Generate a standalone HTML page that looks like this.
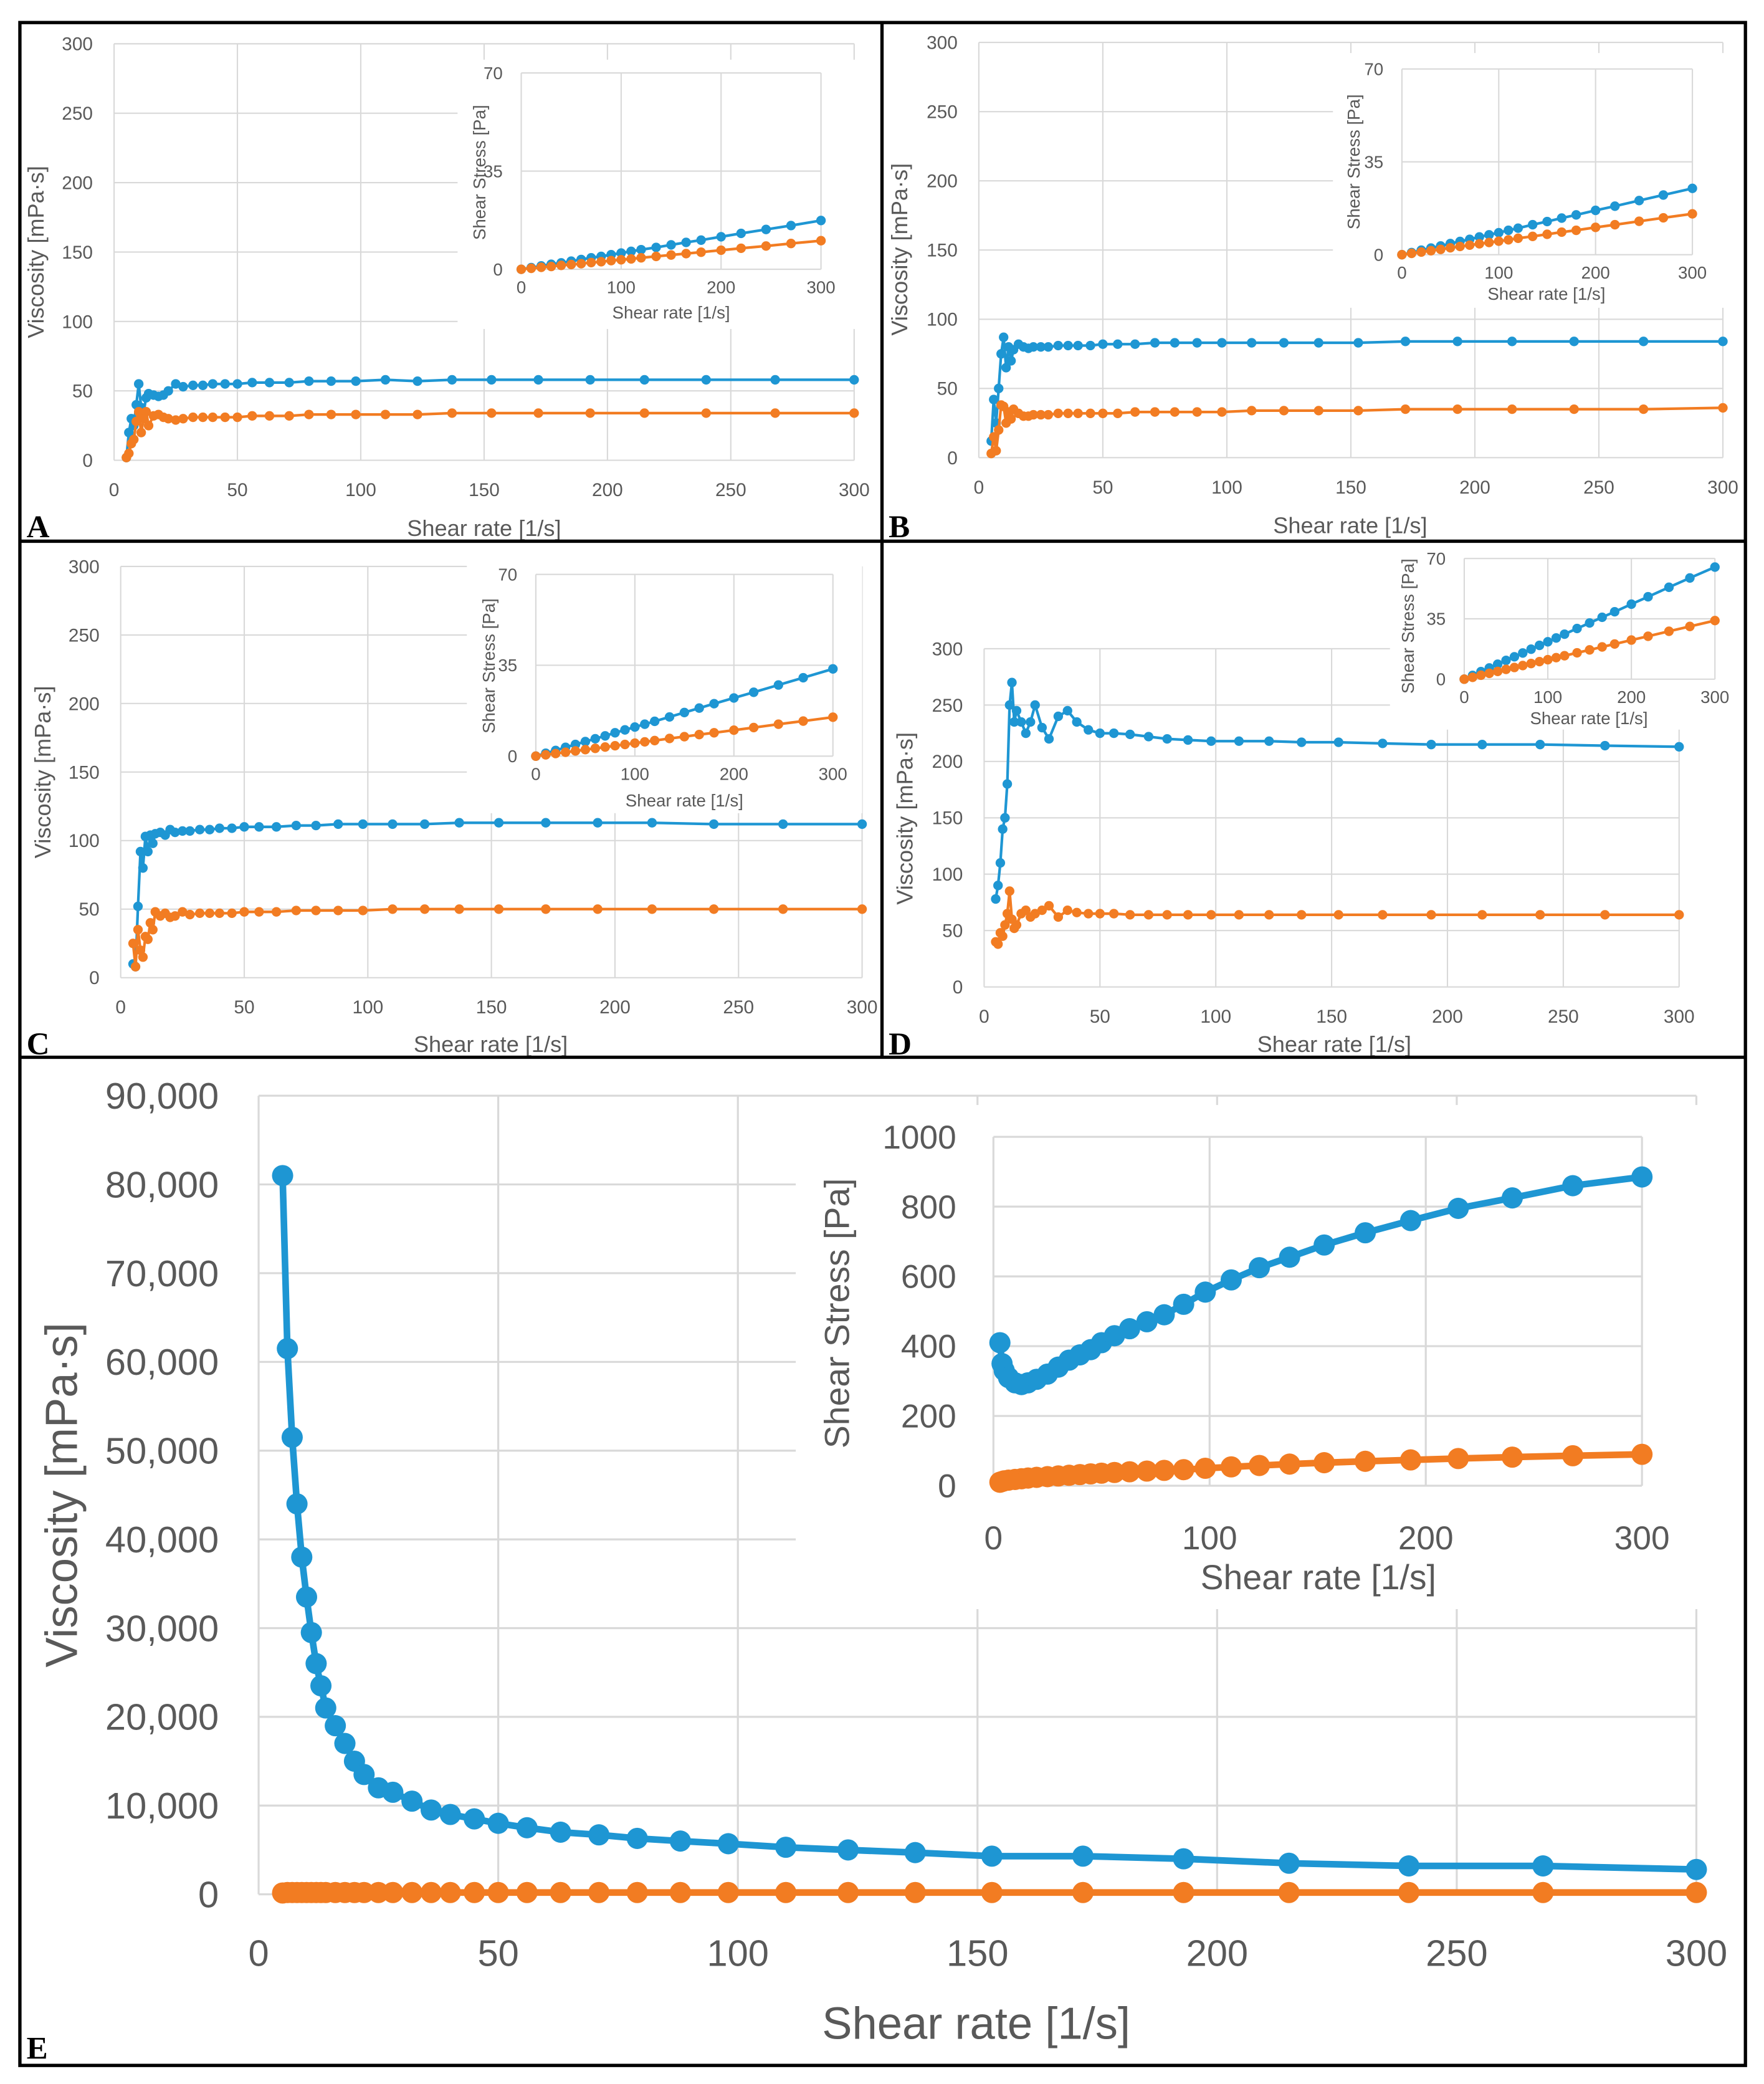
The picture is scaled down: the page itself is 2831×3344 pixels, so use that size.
<!DOCTYPE html>
<html><head><meta charset="utf-8">
<style>
html,body{margin:0;padding:0;background:#fff;}
svg{display:block;}
text{font-family:"Liberation Sans","DejaVu Sans",sans-serif;fill:#595959;}
</style></head>
<body>
<svg id="fig" width="2831" height="3344" viewBox="0 0 1330 1571" xmlns="http://www.w3.org/2000/svg">
<rect x="0" y="0" width="1330" height="1571" fill="#fff"/>
</svg>
<script>
// ---- shared shear-rate categories ----
const xs = [5,6,7,8,9,10,11,12,13,14,16,18,20,22,25,28,32,36,40,45,50,56,63,71,79,88,98,110,123,137,153,172,193,215,240,268,300];
const xi = [0,10,20,30,40,50,60,70,80,90,100,110,120,135,150,165,180,200,220,245,270,300];
// ---- panel A ----
const aBlue = [2,20,30,25,40,55,38,35,45,48,47,46,47,50,55,53,54,54,55,55,55,56,56,56,57,57,57,58,57,58,58,58,58,58,58,58,58];
const aOrange = [2,5,12,15,28,35,20,30,35,25,32,33,31,30,29,30,31,31,31,31,31,32,32,32,33,33,33,33,33,34,34,34,34,34,34,34,34];
const aBlueS = [0,0.6,1.2,1.8,2.3,2.9,3.5,4.1,4.6,5.2,5.8,6.4,7,7.8,8.7,9.6,10.4,11.6,12.8,14.2,15.6,17.4];
const aOrangeS = [0,0.35,0.7,1,1.4,1.7,2,2.4,2.7,3.1,3.4,3.7,4.1,4.6,5.1,5.6,6.1,6.8,7.5,8.3,9.2,10.2];
// ---- panel B ----
const bBlue = [12,42,25,50,75,87,65,80,70,78,82,80,79,80,80,80,81,81,81,81,82,82,82,83,83,83,83,83,83,83,83,84,84,84,84,84,84];
const bOrange = [3,15,5,20,38,37,25,33,28,35,32,30,30,31,31,31,32,32,32,32,32,32,33,33,33,33,33,34,34,34,34,35,35,35,35,35,36];
const bBlueS = [0,0.8,1.7,2.5,3.3,4.2,5,5.8,6.7,7.5,8.3,9.2,10,11.3,12.5,13.8,15,16.7,18.3,20.4,22.5,25];
const bOrangeS = [0,0.5,1,1.5,2,2.6,3.1,3.6,4.1,4.6,5.1,5.6,6.2,6.9,7.7,8.5,9.2,10.3,11.3,12.6,13.9,15.4];
// ---- panel C ----
const cBlue = [10,8,52,92,80,103,92,104,98,105,106,104,108,106,107,107,108,108,109,109,110,110,110,111,111,112,112,112,112,113,113,113,113,113,112,112,112];
const cOrange = [25,8,35,20,15,30,28,40,35,48,45,47,44,45,48,46,47,47,47,47,48,48,48,49,49,49,49,50,50,50,50,50,50,50,50,50,50];
const cBlueS = [0,1.1,2.2,3.4,4.5,5.6,6.7,7.8,9,10.1,11.2,12.3,13.4,15.1,16.8,18.5,20.2,22.4,24.6,27.4,30.2,33.6];
const cOrangeS = [0,0.5,1,1.5,2,2.5,3,3.5,4,4.5,5,5.5,6,6.8,7.5,8.3,9,10,11,12.3,13.5,15];
// ---- panel D ----
const dBlue = [78,90,110,140,150,180,250,270,235,245,235,225,235,250,230,220,240,245,235,228,225,225,224,222,220,219,218,218,218,217,217,216,215,215,215,214,213];
const dOrange = [40,38,48,45,55,65,85,60,52,55,65,68,62,65,68,72,62,68,66,65,65,65,64,64,64,64,64,64,64,64,64,64,64,64,64,64,64];
const dBlueS = [0,2.2,4.4,6.5,8.7,10.9,13,15.2,17.4,19.6,21.7,23.9,26.1,29.4,32.6,35.9,39.1,43.5,47.8,53.3,58.7,65];
const dOrangeS = [0,1.1,2.3,3.4,4.5,5.7,6.8,7.9,9.1,10.2,11.3,12.5,13.6,15.3,17,18.7,20.4,22.7,24.9,27.8,30.6,34];
// ---- panel E ----
const eBlue = [81000,61500,51500,44000,38000,33500,29500,26000,23500,21000,19000,17000,15000,13500,12000,11500,10500,9500,9000,8500,8000,7500,7000,6700,6300,6000,5700,5300,5000,4700,4300,4300,4000,3500,3200,3200,2800];
const eOrange = [150,200,200,200,200,200,200,200,200,200,200,200,200,200,200,200,200,200,200,200,200,200,200,200,200,200,200,200,200,200,200,200,200,200,200,200,200];
const exi = [3,4,5,7,10,13,16,20,25,30,35,40,45,50,56,63,71,79,88,98,110,123,137,153,172,193,215,240,268,300];
const eBlueS = [410,350,330,310,295,290,295,305,320,340,360,375,390,410,430,450,470,490,520,555,590,625,655,690,725,760,795,825,860,885];
const eOrangeS = [10,12,14,16,18,20,22,24,26,28,30,32,34,36,38,40,42,44,46,50,54,58,62,66,70,74,78,82,86,90];
const xTicks = [0,50,100,150,200,250,300];
const xTicksIn = [0,100,200,300];
const yTicks = [0,50,100,150,200,250,300];
const yTicksIn = [0,35,70];
const yTicksE = [0,10000,20000,30000,40000,50000,60000,70000,80000,90000];
const yTicksEIn = [0,200,400,600,800,1000];

const NS = "http://www.w3.org/2000/svg";
const svg = document.getElementById('fig');
const BLUE = "#1E96D3", ORANGE = "#F27C22", GRID = "#d9d9d9";
function mk(tag, attrs, parent, name){
  const e = document.createElementNS(NS, tag);
  for (const k in attrs) e.setAttribute(k, attrs[k]);
  
  
  (parent || svg).appendChild(e);
  return e;
}
function txt(s, x, y, size, anchor, parent, name, rot, extra){
  const t = mk('text', Object.assign({x:x, y:y, 'font-size':size, 'text-anchor':anchor||'middle'}, extra||{}), parent, name);
  if (rot) t.setAttribute('transform', 'rotate(-90 ' + x + ' ' + y + ')');
  t.textContent = s;
  return t;
}
function fmt(v, comma){ return comma ? v.toLocaleString('en-US') : String(v); }

function chart(g, c, xData, series, xT, yT){
  const sx = v => c.x0 + (v - c.xmin) / (c.xmax - c.xmin) * (c.x1 - c.x0);
  const sy = v => c.y0 - (v - c.ymin) / (c.ymax - c.ymin) * (c.y0 - c.y1);
  if (c.bg) mk('rect', {x:c.bg[0], y:c.bg[1], width:c.bg[2], height:c.bg[3], fill:'#fff'}, g, 'plot-background');
  yT.forEach(v => {
    mk('line', {x1:c.x0, x2:c.x1, y1:sy(v), y2:sy(v), stroke:GRID, 'stroke-width':c.gw||1}, g, 'h-gridline');
    txt(fmt(v, c.comma), c.x0 - c.ylo, sy(v) + c.fs*0.35, c.fs, 'end', g, 'y-tick-label');
  });
  xT.forEach(v => {
    mk('line', {x1:sx(v), x2:sx(v), y1:c.y0, y2:c.y1, stroke:GRID, 'stroke-width':c.gw||1}, g, 'v-gridline');
    txt(fmt(v), sx(v), c.y0 + c.xlo, c.fs, 'middle', g, 'x-tick-label');
  });
  series.forEach(s => {
    const pts = s.vals.map((v, i) => sx(s.x ? s.x[i] : xData[i]).toFixed(2) + ',' + sy(v).toFixed(2)).join(' ');
    mk('polyline', {points:pts, fill:'none', stroke:s.color, 'stroke-width':c.lw, 'stroke-linejoin':'round'}, g, s.name + '-line');
    s.vals.forEach((v, i) => {
      mk('circle', {cx:sx(s.x ? s.x[i] : xData[i]), cy:sy(v), r:c.r, fill:s.color}, g, s.name + '-point');
    });
  });
  if (c.xtitle) txt(c.xtitle, c.xtx, c.xty, c.tfs, 'middle', g, 'x-axis-title');
  if (c.ytitle) txt(c.ytitle, c.ytx, c.yty, c.tfs, 'middle', g, 'y-axis-title', true);
}
const LETTER_STYLE = 'font-family:"Liberation Serif",serif;font-weight:bold;fill:#000;';
function panel(name, letter, lx, ly, main, mainSeries, inset, insetSeries){
  const g = mk('g', {}, svg, name);
  chart(g, main, xs, mainSeries, xTicks, yTicks);
  chart(g, inset, xi, insetSeries, xTicksIn, yTicksIn);
  txt(letter, lx, ly, 24, 'start', g, 'panel-label', false, {style:LETTER_STYLE});
}
const small = {xmin:0,xmax:300,ymin:0,ymax:300,fs:14,tfs:17,lw:2,r:3.6,xlo:27,ylo:16};
const smallIn = {xmin:0,xmax:300,ymin:0,ymax:70,fs:13,tfs:13,lw:2,r:3.6,xlo:18,ylo:14};

panel('panel-a','A',20,405,
  Object.assign({}, small, {x0:86,x1:644,y0:347,y1:33,xtitle:'Shear rate [1/s]',xtx:365,xty:404,ytitle:'Viscosity [mPa·s]',ytx:33,yty:190}),
  [{vals:aBlue,color:BLUE,name:'a-sample-1'},{vals:aOrange,color:ORANGE,name:'a-sample-2'}],
  Object.assign({}, smallIn, {x0:393,x1:619,y0:203,y1:55,bg:[345,45,300,203],xtitle:'Shear rate [1/s]',xtx:506,xty:240,ytitle:'Shear Stress [Pa]',ytx:366,yty:130}),
  [{vals:aBlueS,color:BLUE,name:'a-stress-1'},{vals:aOrangeS,color:ORANGE,name:'a-stress-2'}]);

panel('panel-b','B',670,405,
  Object.assign({}, small, {x0:738,x1:1299,y0:345,y1:32,xtitle:'Shear rate [1/s]',xtx:1018,xty:402,ytitle:'Viscosity [mPa·s]',ytx:684,yty:188}),
  [{vals:bBlue,color:BLUE,name:'b-sample-1'},{vals:bOrange,color:ORANGE,name:'b-sample-2'}],
  Object.assign({}, smallIn, {x0:1057,x1:1276,y0:192,y1:52,bg:[1005,40,300,192],xtitle:'Shear rate [1/s]',xtx:1166,xty:226,ytitle:'Shear Stress [Pa]',ytx:1025,yty:122}),
  [{vals:bBlueS,color:BLUE,name:'b-stress-1'},{vals:bOrangeS,color:ORANGE,name:'b-stress-2'}]);

panel('panel-c','C',20,795,
  Object.assign({}, small, {x0:91,x1:650,y0:737,y1:427,xtitle:'Shear rate [1/s]',xtx:370,xty:793,ytitle:'Viscosity [mPa·s]',ytx:38,yty:582}),
  [{vals:cBlue,color:BLUE,name:'c-sample-1'},{vals:cOrange,color:ORANGE,name:'c-sample-2'}],
  Object.assign({}, smallIn, {x0:404,x1:628,y0:570,y1:433,bg:[352,425,298,188],xtitle:'Shear rate [1/s]',xtx:516,xty:608,ytitle:'Shear Stress [Pa]',ytx:373,yty:502}),
  [{vals:cBlueS,color:BLUE,name:'c-stress-1'},{vals:cOrangeS,color:ORANGE,name:'c-stress-2'}]);

panel('panel-d','D',670,795,
  Object.assign({}, small, {x0:742,x1:1266,y0:744,y1:489,xtitle:'Shear rate [1/s]',xtx:1006,xty:793,ytitle:'Viscosity [mPa·s]',ytx:688,yty:617}),
  [{vals:dBlue,color:BLUE,name:'d-sample-1'},{vals:dOrange,color:ORANGE,name:'d-sample-2'}],
  Object.assign({}, smallIn, {x0:1104,x1:1293,y0:512,y1:421,bg:[1048,410,270,140],xtitle:'Shear rate [1/s]',xtx:1198,xty:546,ytitle:'Shear Stress [Pa]',ytx:1066,yty:472}),
  [{vals:dBlueS,color:BLUE,name:'d-stress-1'},{vals:dOrangeS,color:ORANGE,name:'d-stress-2'}]);

// panel E
const gE = mk('g', {}, svg, 'panel-e');
chart(gE, {x0:195,x1:1279,y0:1428,y1:826,xmin:0,xmax:300,ymin:0,ymax:90000,fs:28,tfs:34,lw:5,r:8,xlo:54,ylo:30,comma:true,gw:1.5,
  xtitle:'Shear rate [1/s]',xtx:736,xty:1537,ytitle:'Viscosity [mPa·s]',ytx:58,yty:1127},
  xs, [{vals:eBlue,color:BLUE,name:'e-sample-1'},{vals:eOrange,color:ORANGE,name:'e-sample-2'}], xTicks, yTicksE);
chart(gE, {x0:749,x1:1238,y0:1120,y1:857,xmin:0,xmax:300,ymin:0,ymax:1000,fs:25,tfs:26,lw:5,r:8,xlo:48,ylo:28,gw:1.5,
  bg:[600,833,685,380],xtitle:'Shear rate [1/s]',xtx:994,xty:1198,ytitle:'Shear Stress  [Pa]',ytx:640,yty:990},
  exi, [{vals:eBlueS,color:BLUE,name:'e-stress-1'},{vals:eOrangeS,color:ORANGE,name:'e-stress-2'}], xTicksIn, yTicksEIn);
txt('E', 20, 1552, 24, 'start', gE, 'panel-label', false, {style:LETTER_STYLE});

// frame
mk('rect', {x:15, y:17, width:1301, height:1540, fill:'none', stroke:'#000', 'stroke-width':2.5}, svg, 'figure-frame');
mk('line', {x1:665, x2:665, y1:17, y2:797, stroke:'#000', 'stroke-width':2.5}, svg, 'vertical-divider');
mk('line', {x1:15, x2:1316, y1:408, y2:408, stroke:'#000', 'stroke-width':2.5}, svg, 'divider-top');
mk('line', {x1:15, x2:1316, y1:797, y2:797, stroke:'#000', 'stroke-width':2.5}, svg, 'divider-bottom');
</script>
</body></html>
